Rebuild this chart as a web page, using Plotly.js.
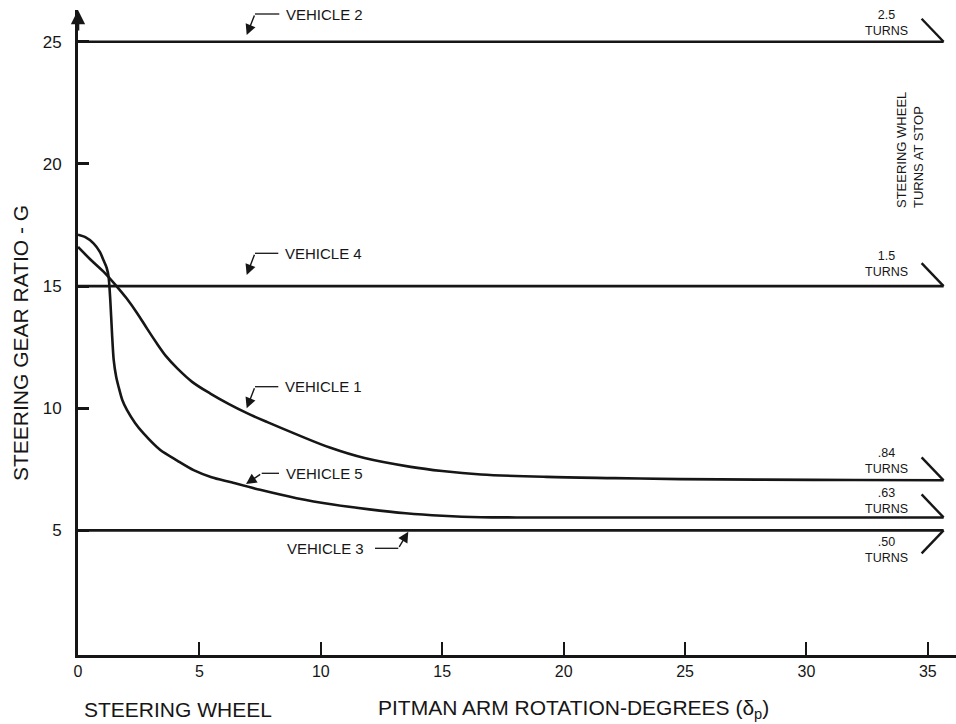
<!DOCTYPE html>
<html>
<head>
<meta charset="utf-8">
<script src="https://cdn.plot.ly/plotly-3.0.1.min.js"></script>
<style>html,body{margin:0;padding:0;background:#fff;}#chart{width:956px;height:724px;}</style>
</head>
<body>
<div id="chart"></div>
<script>
// ---- data ----
const xTickVals = [0, 5, 10, 15, 20, 25, 30, 35];
const yTickVals = [5, 10, 15, 20, 25];

const v1X = [0, 0.5, 1.05, 1.61, 2.0, 2.43, 2.85, 3.25, 3.65, 4.1, 4.7, 5.45, 6.2, 6.96, 7.8, 9.0, 10.4, 11.8, 13.7, 15.0, 16.6, 19.3, 22.1, 24.8, 28, 32, 35.65];
const v1Y = [16.6, 16.1, 15.59, 14.97, 14.5, 13.9, 13.25, 12.65, 12.1, 11.62, 11.08, 10.6, 10.18, 9.8, 9.43, 8.93, 8.38, 7.96, 7.6, 7.43, 7.29, 7.19, 7.14, 7.1, 7.08, 7.06, 7.05];

const v5X = [0, 0.3, 0.64, 0.9, 1.05, 1.18, 1.26, 1.33, 1.40, 1.47, 1.57, 1.67, 1.82, 2.02, 2.35, 2.70, 3.39, 4.1, 4.76, 5.5, 6.27, 7.5, 9.0, 10.5, 12.0, 13.5, 15.0, 16.6, 18.3, 22, 26, 30, 35.65];
const v5Y = [17.1, 17.0, 16.75, 16.4, 16.06, 15.75, 15.38, 14.43, 13.08, 11.98, 11.3, 10.88, 10.35, 9.92, 9.4, 8.97, 8.29, 7.85, 7.47, 7.18, 6.98, 6.66, 6.32, 6.06, 5.86, 5.7, 5.6, 5.54, 5.53, 5.53, 5.53, 5.53, 5.53];

const flatX = [0, 35.65];
const v2Y = [25, 25];
const v4Y = [15, 15];
const v3Y = [5, 5];

const turnLabels = ['2.5', '1.5', '.84', '.63', '.50'];
const turnValues = [25, 15, 7.05, 5.53, 5];

// ---- layout geometry ----
const L = 78, T = 10, W = 878, H = 645;
const xr = [0, 36.16], yr = [-0.1, 26.3];
const FONT = 'Liberation Sans, Arial, Helvetica, sans-serif';
const INK = '#161616';
function pxp(px) { return (px - L) / W; }
function pyp(py) { return 1 - (py - T) / H; }

const lineStyle = {color: INK, width: 2.6};
const traces = [
  {x: flatX, y: v2Y, mode: 'lines', line: lineStyle, hoverinfo: 'skip'},
  {x: flatX, y: v4Y, mode: 'lines', line: lineStyle, hoverinfo: 'skip'},
  {x: flatX, y: v3Y, mode: 'lines', line: lineStyle, hoverinfo: 'skip'},
  {x: v1X, y: v1Y, mode: 'lines', line: Object.assign({shape: 'spline', smoothing: 1}, lineStyle), hoverinfo: 'skip'},
  {x: v5X, y: v5Y, mode: 'lines', line: Object.assign({shape: 'spline', smoothing: 0.7}, lineStyle), hoverinfo: 'skip'}
];

const shapes = [];
const annotations = [];

// end ticks of "turns" lines
turnValues.forEach((v, i) => {
  const down = (i === 4);
  shapes.push({type: 'line', xref: 'x', yref: 'y', xsizemode: 'pixel', ysizemode: 'pixel',
    xanchor: flatX[1], yanchor: v, x0: 0, x1: -22, y0: 0, y1: down ? -23 : 23,
    line: {color: INK, width: 2.4}});
});
const turnLabelPy = [22.5, 264, 461.5, 500.5, 550];
turnLabels.forEach((t, i) => {
  annotations.push({xref: 'paper', yref: 'paper', x: pxp(886), y: pyp(turnLabelPy[i]),
    text: t + '<br>TURNS', showarrow: false, align: 'center', xanchor: 'center', yanchor: 'middle',
    font: {family: FONT, size: 12.5, color: INK}});
});

// vehicle leaders
const leaders = [
  {text: 'VEHICLE 2', tip: [246.7, 35], tail: [255, 14], end: 279.3, side: 'right'},
  {text: 'VEHICLE 4', tip: [246.7, 275], tail: [255, 253.3], end: 278.3, side: 'right'},
  {text: 'VEHICLE 1', tip: [246.7, 408.3], tail: [255, 386.7], end: 278.3, side: 'right'},
  {text: 'VEHICLE 5', tip: [246, 484], tail: [261.7, 473.3], end: 279, side: 'right'},
  {text: 'VEHICLE 3', tip: [408.3, 531.7], tail: [398.3, 548.3], end: 375, side: 'left'}
];
leaders.forEach(o => {
  annotations.push({xref: 'paper', yref: 'paper', x: pxp(o.tip[0]), y: pyp(o.tip[1]),
    axref: 'pixel', ayref: 'pixel', ax: o.tail[0] - o.tip[0], ay: o.tail[1] - o.tip[1],
    text: '', showarrow: true, arrowhead: 2, arrowsize: 1.5, arrowwidth: 1.4, arrowcolor: INK, standoff: 0});
  shapes.push({type: 'line', xref: 'paper', yref: 'paper',
    x0: pxp(o.tail[0]), x1: pxp(o.end), y0: pyp(o.tail[1]), y1: pyp(o.tail[1]),
    line: {color: INK, width: 1.3}});
  const textX = o.side === 'right' ? o.end + 5 : o.end - 9;
  annotations.push({xref: 'paper', yref: 'paper', x: pxp(textX), y: pyp(o.tail[1]),
    text: o.text, showarrow: false, xanchor: o.side === 'right' ? 'left' : 'right', yanchor: 'middle',
    font: {family: FONT, size: 15, color: INK}});
});

// axis arrow at top of y axis
annotations.push({xref: 'x', yref: 'paper', x: 0, y: 1, axref: 'pixel', ayref: 'pixel', ax: 0, ay: 22,
  text: '', showarrow: true, arrowhead: 2, arrowsize: 1.1, arrowwidth: 2.6, arrowcolor: INK, standoff: 0});

// right-side rotated note
annotations.push({xref: 'paper', yref: 'paper', x: pxp(910), y: pyp(150),
  text: 'STEERING WHEEL<br>TURNS AT STOP', showarrow: false, textangle: -90, align: 'left',
  xanchor: 'center', yanchor: 'middle', font: {family: FONT, size: 13, color: INK}});

// axis titles as text
annotations.push({xref: 'paper', yref: 'paper', x: pxp(20), y: pyp(343),
  text: 'STEERING GEAR RATIO - G', showarrow: false, textangle: -90,
  xanchor: 'center', yanchor: 'middle', font: {family: FONT, size: 21, color: INK}});
annotations.push({xref: 'paper', yref: 'paper', x: pxp(82), y: pyp(709),
  text: 'STEERING WHEEL', showarrow: false, xanchor: 'left', yanchor: 'middle',
  font: {family: FONT, size: 21, color: INK}});
annotations.push({xref: 'paper', yref: 'paper', x: pxp(376), y: pyp(709),
  text: 'PITMAN ARM ROTATION-DEGREES (δ<sub>p</sub>)', showarrow: false, xanchor: 'left', yanchor: 'middle',
  font: {family: FONT, size: 21, color: INK}});

const layout = {
  width: 956, height: 724,
  margin: {l: L, r: 956 - L - W, t: T, b: 724 - T - H, pad: 0},
  paper_bgcolor: '#fff', plot_bgcolor: '#fff',
  showlegend: false,
  xaxis: {range: xr, tickvals: xTickVals, ticktext: xTickVals.map(String), ticks: 'inside', ticklen: 13, tickwidth: 2,
    tickcolor: INK, showline: true, linewidth: 3, linecolor: INK, showgrid: false, zeroline: false,
    tickfont: {family: FONT, size: 16, color: INK}, fixedrange: true},
  yaxis: {range: yr, tickvals: yTickVals, ticktext: yTickVals.map(String), ticks: 'inside', ticklen: 11, tickwidth: 3,
    tickcolor: INK, showline: true, linewidth: 3, linecolor: INK, showgrid: false, zeroline: false,
    ticklabelstandoff: 10, tickfont: {family: FONT, size: 17, color: INK}, fixedrange: true},
  shapes: shapes,
  annotations: annotations
};

Plotly.newPlot('chart', traces, layout, {displayModeBar: false, staticPlot: true});
</script>
</body>
</html>
